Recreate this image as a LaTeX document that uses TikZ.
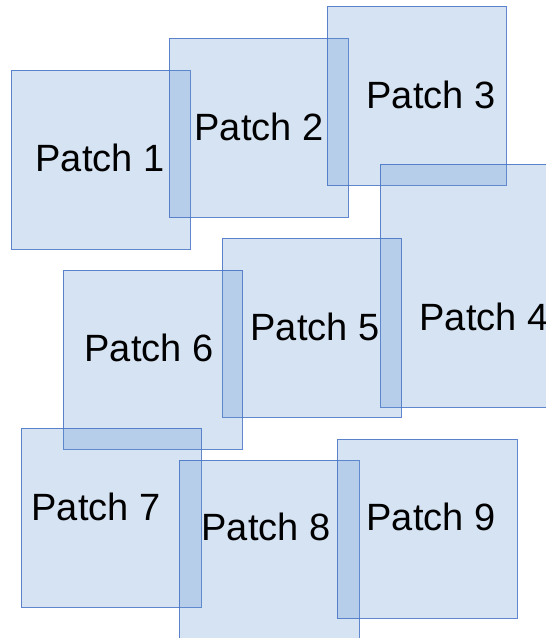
\documentclass[tikz,border=0pt]{standalone}
\usepackage{fontspec}
\setmainfont{Liberation Sans}
\definecolor{patchfill}{RGB}{100,150,210}
\definecolor{patchline}{RGB}{68,114,196}
\tikzset{
  x=1pt, y=-1pt,
  patch/.style={draw=patchline, draw opacity=0.85, line width=0.9pt,
    fill=patchfill, fill opacity=0.27},
  lbl/.style={inner sep=0pt, text=black, font=\fontsize{38}{45}\selectfont}
}
\begin{document}
\begin{tikzpicture}
\useasboundingbox (0,0) rectangle (546,638);
\clip (0,0) rectangle (546,638);
% the nine overlapping patches
\path[patch] (11,70)   rectangle (190,249) coordinate (p1);
\path[patch] (169,38)  rectangle (348,217) coordinate (p2);
\path[patch] (327,6)   rectangle (506,185) coordinate (p3);
\path[patch] (380,164) rectangle (560,407) coordinate (p4);
\path[patch] (222,238) rectangle (401,417) coordinate (p5);
\path[patch] (63,270)  rectangle (242,449) coordinate (p6);
\path[patch] (21,428)  rectangle (201,607) coordinate (p7);
\path[patch] (179,460) rectangle (359,640) coordinate (p8);
\path[patch] (337,439) rectangle (517,618) coordinate (p9);
% labels
\node[lbl] (t1) at (100,158) {Patch 1};
\node[lbl] (t2) at (259,127) {Patch 2};
\node[lbl] (t3) at (431,95)  {Patch 3};
\node[lbl] (t4) at (484,317) {Patch 4};
\node[lbl] (t5) at (315,327) {Patch 5};
\node[lbl] (t6) at (149,348) {Patch 6};
\node[lbl] (t7) at (96,507)  {Patch 7};
\node[lbl] (t8) at (266,527) {Patch 8};
\node[lbl] (t9) at (431,517) {Patch 9};
\end{tikzpicture}
\end{document}
